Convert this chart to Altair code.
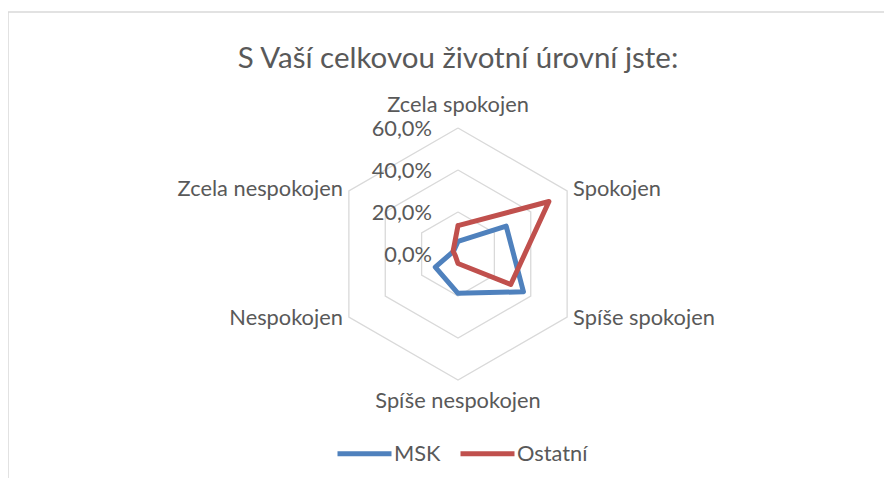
import altair as alt
import pandas as pd

# ---- data ----
title_text = "S Vaší celkovou životní úrovní jste:"
categories = ["Zcela spokojen", "Spokojen", "Spíše spokojen",
              "Spíše nespokojen", "Nespokojen", "Zcela nespokojen"]
series_names = ["MSK", "Ostatní"]
msk = [0.06, 0.265, 0.36, 0.187, 0.125, 0.025]
ostatni = [0.135, 0.50, 0.29, 0.045, 0.015, 0.027]
ticks = [0.0, 0.2, 0.4, 0.6]
colors = ["#4f81bd", "#c0504d"]

# ---- layout ----
W, H = 876, 466
CX, CY = 450, 242
R = 126
RMAX = 0.6
ppu = R / RMAX
x_dom = [-CX / ppu, (W - CX) / ppu]
y_dom = [-(H - CY) / ppu, CY / ppu]
FONT = "Lato"
TXT = "#595959"
LBL = 21.8

xs = alt.Scale(domain=x_dom, nice=False, zero=False)
ys = alt.Scale(domain=y_dom, nice=False, zero=False)

# series polygons (closed)
rows = []
for name, vals in zip(series_names, [msk, ostatni]):
    for i in range(len(categories) + 1):
        k = i % len(categories)
        rows.append({"series": name, "ord": i, "idx": k,
                     "cat": categories[k], "value": vals[k]})
sdf = pd.DataFrame(rows)

# grid rings
grows = []
for r in ticks[1:]:
    for i in range(len(categories) + 1):
        grows.append({"ring": r, "ord": i, "idx": i % len(categories)})
gdf = pd.DataFrame(grows)

ldf = pd.DataFrame({"cat": categories, "idx": list(range(len(categories)))})
tdf = pd.DataFrame({"v": ticks})

polar = dict(ang="datum.idx * PI / 3")

border = alt.Chart(pd.DataFrame({"b": [1]})).mark_rect(
    fill=None, stroke="#d9d9d9", strokeWidth=1.5
).encode(x=alt.value(0), x2=alt.value(W + 20), y=alt.value(0), y2=alt.value(H + 20))

grid = alt.Chart(gdf).transform_calculate(**polar).transform_calculate(
    px="datum.ring * sin(datum.ang)", py="datum.ring * cos(datum.ang)"
).mark_line(color="#d9d9d9", strokeWidth=1.3).encode(
    x=alt.X("px:Q", scale=xs, axis=None),
    y=alt.Y("py:Q", scale=ys, axis=None),
    detail="ring:N",
    order="ord:Q",
)

lines = alt.Chart(sdf).transform_calculate(**polar).transform_calculate(
    px="datum.value * sin(datum.ang)", py="datum.value * cos(datum.ang)"
).mark_line(strokeWidth=5, strokeJoin="round", strokeCap="round").encode(
    x=alt.X("px:Q", scale=xs, axis=None),
    y=alt.Y("py:Q", scale=ys, axis=None),
    color=alt.Color("series:N",
                    scale=alt.Scale(domain=series_names, range=colors),
                    legend=alt.Legend(orient="none", legendX=327, legendY=412,
                                      direction="horizontal", title=None,
                                      symbolType="stroke", symbolSize=2916,
                                      symbolStrokeWidth=5, labelFont=FONT,
                                      labelFontSize=LBL, labelColor=TXT,
                                      labelOffset=0, columnPadding=9,
                                      padding=0)),
    order="ord:Q",
)

def label_layer(indices, align, dx, dy):
    return alt.Chart(ldf).transform_filter(
        alt.FieldOneOfPredicate(field="idx", oneOf=indices)
    ).transform_calculate(**polar).transform_calculate(
        px=f"{RMAX} * sin(datum.ang)", py=f"{RMAX} * cos(datum.ang)"
    ).mark_text(align=align, baseline="alphabetic", dx=dx, dy=dy,
                font=FONT, fontSize=LBL, color=TXT).encode(
        x=alt.X("px:Q", scale=xs, axis=None),
        y=alt.Y("py:Q", scale=ys, axis=None),
        text="cat:N",
    )

lab_top = label_layer([0], "center", 0, -16)
lab_ur = label_layer([1], "left", 6, 5)
lab_lr = label_layer([2], "left", 6, 8)
lab_bot = label_layer([3], "center", 0, 28)
lab_ll = label_layer([4], "right", -6, 8)
lab_ul = label_layer([5], "right", -6, 5)

tick_labels = alt.Chart(tdf).transform_calculate(
    lbl="replace(format(datum.v, '.1%'), '.', ',')", zero="0"
).mark_text(align="right", baseline="alphabetic", dx=-26, dy=8,
            font=FONT, fontSize=LBL, color=TXT).encode(
    x=alt.X("zero:Q", scale=xs, axis=None),
    y=alt.Y("v:Q", scale=ys, axis=None),
    text="lbl:N",
)

title = alt.Chart(pd.DataFrame({"t": [title_text]})).mark_text(
    align="center", baseline="alphabetic", font=FONT, fontSize=29.5, color=TXT
).encode(x=alt.value(CX), y=alt.value(56), text="t:N")

chart = alt.layer(
    border, grid, lines, lab_top, lab_ur, lab_lr, lab_bot, lab_ll, lab_ul,
    tick_labels, title
).properties(
    width=W, height=H, autosize="none",
    padding={"left": 0, "top": 4, "right": 0, "bottom": 0},
    background="white",
).configure_view(stroke=None)

chart.save("out.html", embed_options={"renderer": "svg", "actions": False})
